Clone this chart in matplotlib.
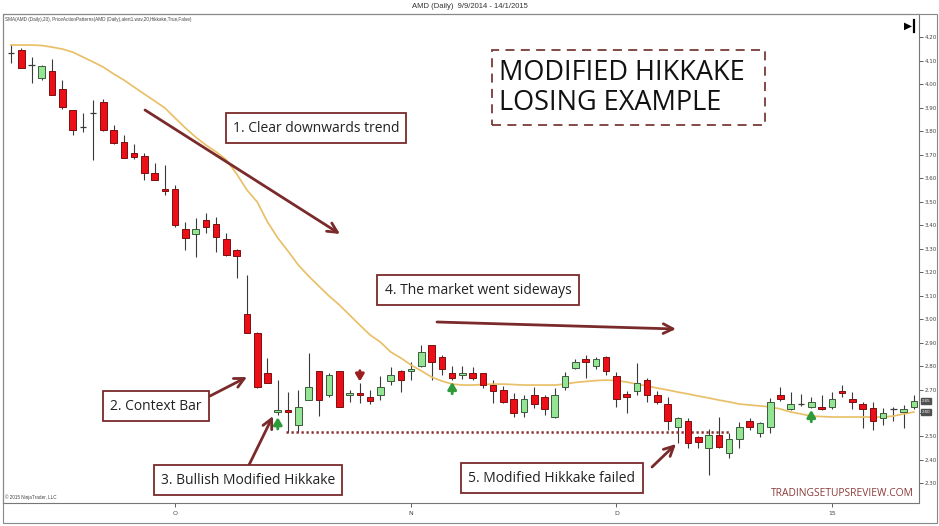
import matplotlib
matplotlib.use("Agg")
import matplotlib.pyplot as plt
from matplotlib.patches import Rectangle
from matplotlib.lines import Line2D
import numpy as np

# ---------------- data ----------------
opens = [4.13, 4.145, 4.08, 4.026, 4.055, 3.979, 3.89, 3.817, 3.877, 3.923,
         3.804, 3.753, 3.706, 3.694, 3.621, 3.553, 3.553, 3.383, 3.362, 3.421,
         3.404, 3.34, 3.294, 3.021, 2.94, 2.77, 2.604, 2.613, 2.549, 2.655,
         2.779, 2.677, 2.779, 2.677, 2.685, 2.668, 2.677, 2.736, 2.779, 2.779,
         2.80, 2.889, 2.838, 2.77, 2.762, 2.77, 2.77, 2.719, 2.698, 2.66,
         2.604, 2.677, 2.668, 2.583, 2.711, 2.791, 2.83, 2.80, 2.838, 2.757,
         2.681, 2.694, 2.74, 2.677, 2.638, 2.54, 2.566, 2.498, 2.451, 2.506,
         2.43, 2.49, 2.566, 2.515, 2.54, 2.677, 2.617, 2.638, 2.626, 2.626,
         2.626, 2.694, 2.66, 2.638, 2.621, 2.579, 2.617, 2.604, 2.626]
highs = [4.17, 4.155, 4.115, 4.08, 4.106, 4.017, 3.89, 3.877, 3.93, 3.936,
         3.826, 3.783, 3.745, 3.706, 3.664, 3.655, 3.57, 3.413, 3.43, 3.451,
         3.434, 3.366, 3.30, 3.187, 2.945, 2.834, 2.74, 2.689, 2.698, 2.855,
         2.779, 2.77, 2.779, 2.698, 2.728, 2.698, 2.757, 2.796, 2.783, 2.817,
         2.889, 2.889, 2.845, 2.80, 2.80, 2.796, 2.77, 2.74, 2.715, 2.685,
         2.677, 2.711, 2.677, 2.706, 2.774, 2.83, 2.847, 2.838, 2.843, 2.774,
         2.694, 2.813, 2.749, 2.694, 2.668, 2.583, 2.579, 2.502, 2.532, 2.583,
         2.515, 2.562, 2.579, 2.562, 2.664, 2.711, 2.689, 2.681, 2.668, 2.677,
         2.689, 2.719, 2.689, 2.647, 2.647, 2.621, 2.626, 2.634, 2.677]
lows = [4.09, 4.07, 4.004, 4.017, 3.953, 3.894, 3.783, 3.796, 3.677, 3.80,
        3.745, 3.685, 3.68, 3.591, 3.59, 3.528, 3.391, 3.294, 3.264, 3.366,
        3.285, 3.27, 3.174, 2.94, 2.706, 2.728, 2.59, 2.52, 2.52, 2.655,
        2.587, 2.67, 2.626, 2.647, 2.643, 2.638, 2.655, 2.719, 2.689, 2.74,
        2.796, 2.74, 2.762, 2.74, 2.745, 2.74, 2.706, 2.643, 2.643, 2.583,
        2.583, 2.621, 2.591, 2.579, 2.698, 2.787, 2.749, 2.787, 2.762, 2.626,
        2.60, 2.677, 2.647, 2.638, 2.528, 2.472, 2.451, 2.451, 2.336, 2.451,
        2.408, 2.451, 2.528, 2.498, 2.515, 2.651, 2.613, 2.63, 2.621, 2.613,
        2.617, 2.668, 2.617, 2.536, 2.528, 2.549, 2.566, 2.536, 2.617]
closes = [4.13, 4.07, 4.08, 4.077, 3.953, 3.902, 3.804, 3.817, 3.877, 3.804,
          3.749, 3.685, 3.689, 3.621, 3.591, 3.545, 3.40, 3.345, 3.383, 3.391,
          3.349, 3.272, 3.268, 2.94, 2.711, 2.728, 2.613, 2.604, 2.626, 2.711,
          2.655, 2.762, 2.626, 2.685, 2.677, 2.651, 2.711, 2.762, 2.74, 2.787,
          2.86, 2.817, 2.787, 2.749, 2.77, 2.749, 2.719, 2.694, 2.647, 2.60,
          2.66, 2.638, 2.617, 2.677, 2.757, 2.817, 2.817, 2.83, 2.779, 2.66,
          2.668, 2.728, 2.677, 2.647, 2.566, 2.579, 2.472, 2.477, 2.506, 2.455,
          2.49, 2.54, 2.54, 2.557, 2.647, 2.66, 2.638, 2.638, 2.647, 2.617,
          2.66, 2.685, 2.647, 2.617, 2.566, 2.60, 2.617, 2.617, 2.651]
sma20 = [4.166, 4.166, 4.166, 4.164, 4.157, 4.149, 4.136, 4.115, 4.094, 4.072,
         4.043, 4.017, 3.987, 3.957, 3.928, 3.898, 3.855, 3.813, 3.774, 3.740,
         3.711, 3.677, 3.617, 3.549, 3.498, 3.413, 3.345, 3.289, 3.230, 3.183,
         3.140, 3.098, 3.060, 3.017, 2.974, 2.932, 2.902, 2.860, 2.834, 2.804,
         2.779, 2.753, 2.736, 2.723, 2.719, 2.719, 2.721, 2.723, 2.723, 2.721,
         2.719, 2.719, 2.719, 2.719, 2.723, 2.730, 2.734, 2.738, 2.740, 2.738,
         2.732, 2.723, 2.715, 2.706, 2.698, 2.689, 2.681, 2.672, 2.664, 2.655,
         2.647, 2.638, 2.634, 2.630, 2.626, 2.617, 2.604, 2.596, 2.587, 2.585,
         2.583, 2.583, 2.583, 2.583, 2.583, 2.583, 2.587, 2.596, 2.604]

month_ticks = [16, 39, 59, 80]
month_labels = ["O", "N", "D", "15"]
price_ticks = [round(2.30 + 0.10 * k, 2) for k in range(20)]
hidden_tick_labels = [2.60]   # covered by the current-price boxes in the reference

buy_signals = [26, 43, 78]
sell_signals = [34]
hikkake_level = 2.52
hikkake_span = [27, 70]

# ---------------- figure ----------------
W, H = 939, 526
fig = plt.figure(figsize=(W / 100, H / 100), dpi=100)
fig.patch.set_facecolor("white")


def F(x, y):
    return (x / W, 1 - y / H)


ax = fig.add_axes([3 / W, (H - 503) / H, 916 / W, 489 / H])
ax.set_xlim(-0.78, 88.5)
ax.set_ylim(2.217, 4.298)

n = len(opens)
xs = np.arange(n)
o = np.array(opens); c = np.array(closes)
h = np.array(highs); l = np.array(lows)

# wicks
ax.vlines(xs, l, h, color="#3a3a3a", lw=0.8, zorder=2)

up = c > o + 0.001
dn = c < o - 0.001
dj = ~(up | dn)
bw = 0.64
ax.bar(xs[up], (c - o)[up], bottom=o[up], width=bw, color="#93E493",
       edgecolor="#3d5a3d", linewidth=0.7, zorder=3)
ax.bar(xs[dn], (c - o)[dn], bottom=o[dn], width=bw, color="#EC0F17",
       edgecolor="#7a1010", linewidth=0.7, zorder=3)
ax.hlines(o[dj], xs[dj] - bw / 2, xs[dj] + bw / 2, color="#3a3a3a", lw=0.9, zorder=3)

# SMA
ax.plot(xs, sma20, color="#E9C068", lw=1.25, zorder=2.5)

# hikkake level
ax.hlines(hikkake_level, hikkake_span[0] - 0.2, hikkake_span[1], color="#8A2A2A",
          lw=1.8, linestyles=(0, (0.9, 1.1)), zorder=2)

# signal arrows
sig_style = dict(arrowstyle="-|>,head_length=0.42,head_width=0.25", lw=2.1,
                 mutation_scale=10, shrinkA=0, shrinkB=0)
for i in buy_signals:
    ax.annotate("", xy=(i, lows[i] - 0.008), xytext=(i, lows[i] - 0.058),
                arrowprops=dict(color="#2E9A3A", **sig_style), zorder=4)
for i in sell_signals:
    ax.annotate("", xy=(i, highs[i] + 0.006), xytext=(i, highs[i] + 0.052),
                arrowprops=dict(color="#9A1E1E", **sig_style), zorder=4)

# axes styling
for s in ax.spines.values():
    s.set_color("#777777")
    s.set_linewidth(0.8)
ax.yaxis.tick_right()
ax.set_yticks(price_ticks)
ax.set_yticklabels(["" if p in hidden_tick_labels else f"{p:.2f}" for p in price_ticks])
ax.tick_params(axis="y", direction="out", length=3, width=0.6, colors="#444444",
               labelsize=4, pad=1)
ax.set_xticks(month_ticks)
ax.set_xticklabels(month_labels)
ax.tick_params(axis="x", direction="out", length=3, width=0.6, colors="#444444",
               labelsize=4.5, pad=3)

# current price boxes on axis
box_vals = [closes[-1], sma20[-1]]
for v in box_vals:
    ax.text(1.003, v, f"{v:.2f}", transform=ax.get_yaxis_transform(), ha="left",
            va="center", fontsize=3.2, color="white", family="Liberation Sans",
            bbox=dict(boxstyle="square,pad=0.18", fc="#505050", ec="#505050"), zorder=6)

# outer frame
fig.add_artist(Rectangle((3 / W, 3 / H), 934 / W, 509 / H, transform=fig.transFigure,
                         fill=False, ec="#888888", lw=0.8))

# header texts
fig.text(*F(470, 7), "AMD (Daily)  9/9/2014 - 14/1/2015", ha="center", va="center",
         fontsize=5.5, color="#333333", family="Liberation Sans")
fig.text(*F(5, 20), "SMA(AMD (Daily),20), PriceActionPatterns(AMD (Daily),alert1.wav,20,Hikkake,True,False)",
         ha="left", va="center", fontsize=3.3, color="#444444", family="Liberation Sans")
fig.text(*F(5, 497), "\u00a9 2015 NinjaTrader, LLC", ha="left", va="center",
         fontsize=3.3, color="#444444", family="Liberation Sans")

# play icon
fig.text(*F(908, 26), "\u25B6", ha="center", va="center", fontsize=7.5, color="black",
         family="DejaVu Sans")
fig.add_artist(Line2D([914 / W, 914 / W], [1 - 20 / H, 1 - 32 / H], transform=fig.transFigure,
                      color="black", lw=1.6))

# watermark
fig.text(*F(842, 493), "TRADINGSETUPSREVIEW.COM", ha="center", va="center",
         fontsize=7.4, color="#8B3A3A", family="Open Sans")

# big title box
fig.text(*F(499, 88), "MODIFIED HIKKAKE\nLOSING EXAMPLE", ha="left", va="center",
         fontsize=19.5, color="#111111", family="Open Sans", linespacing=1.12)
fig.add_artist(Rectangle((492 / W, 1 - 125 / H), 273 / W, 75 / H, transform=fig.transFigure,
                         fill=False, ec="#7A3A3A", lw=1.3, linestyle=(0, (5, 3.5))))

# annotation boxes
dark = "#7A2A2A"
boxes = [
    ((316, 128), "1. Clear downwards trend"),
    ((156, 406), "2. Context Bar"),
    ((248, 480), "3. Bullish Modified Hikkake"),
    ((478, 290), "4. The market went sideways"),
    ((552, 478), "5. Modified Hikkake failed"),
]
for (bx, by), t in boxes:
    fig.text(*F(bx, by), t, ha="center", va="center", fontsize=10, color="#222222",
             family="Open Sans",
             bbox=dict(boxstyle="square,pad=0.52", fc="white", ec=dark, lw=1.3))

arrows = [
    ((145, 110), (340, 234)),
    ((210, 396), (247, 377)),
    ((248, 467), (273, 416)),
    ((437, 322), (676, 329)),
    ((652, 467), (676, 444)),
]
for (x0, y0), (x1, y1) in arrows:
    ax.annotate("", xy=F(x1, y1), xytext=F(x0, y0), xycoords="figure fraction",
                textcoords="figure fraction",
                arrowprops=dict(arrowstyle="->,head_length=0.7,head_width=0.35",
                                color=dark, lw=2.0, shrinkA=0, shrinkB=0))

fig.savefig("out.png", dpi=100, facecolor="white")
